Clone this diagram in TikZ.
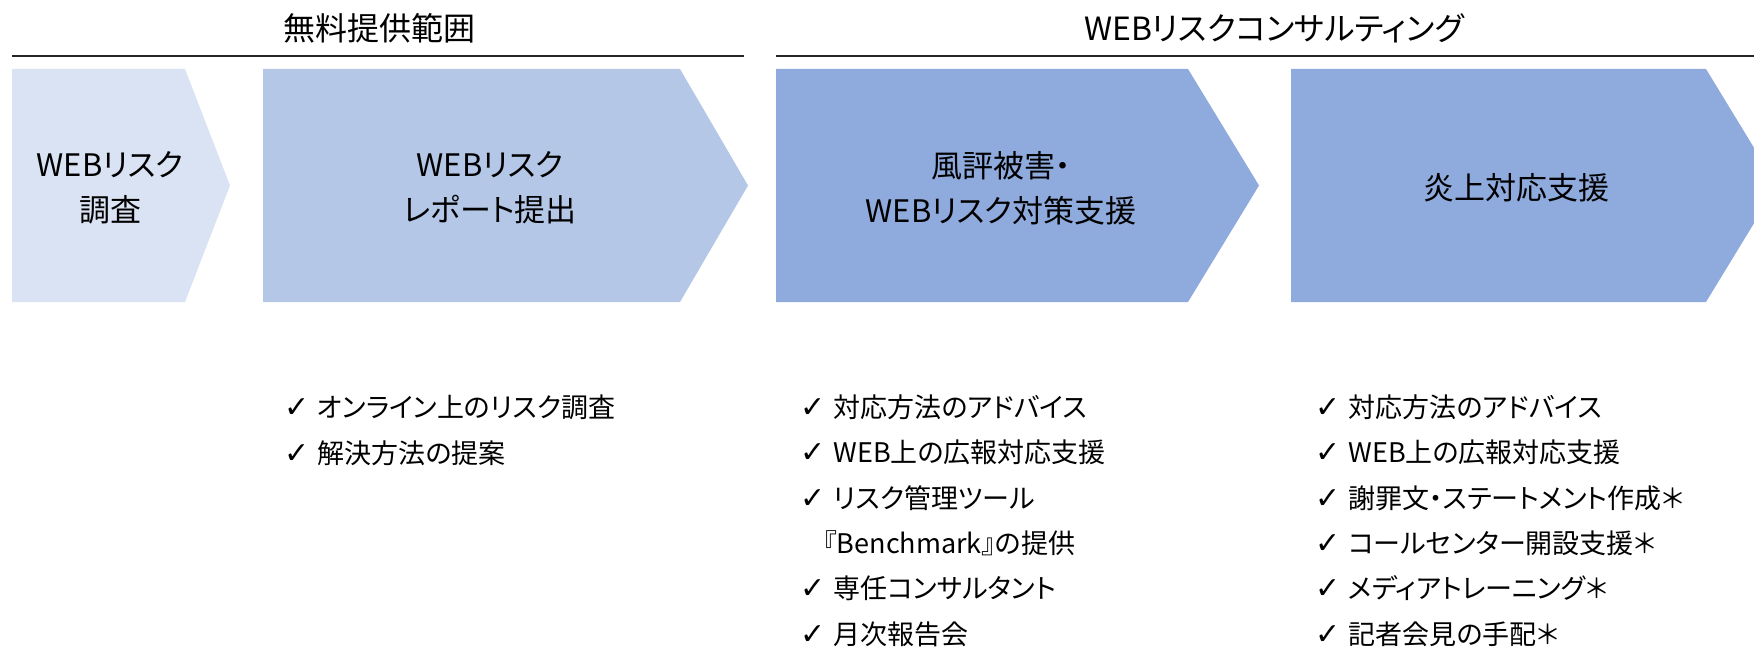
\documentclass[tikz,border=0pt]{standalone}
\usepackage{fontspec}
\setmainfont[RawFeature=+palt]{Noto Sans CJK JP}
\newfontfamily\chkfont{DejaVu Sans}
\newcommand{\chk}{\makebox[16.5pt][l]{\chkfont\fontsize{15}{15}\selectfont ✓}}
\definecolor{chevA}{HTML}{DAE3F3}
\definecolor{chevB}{HTML}{B4C7E7}
\definecolor{chevC}{HTML}{8FAADC}
\definecolor{rulegray}{HTML}{262626}

\begin{document}
\begin{tikzpicture}[x = 0.5pt, y = -0.5pt,
  head/.style = {font=\fontsize{16}{18}\selectfont},
  rule/.style = {rulegray, line width=1pt},
  chevtext/.style = {font=\fontsize{15.5}{22.5}\selectfont, align=center},
  item/.style = {anchor=west, inner sep=0pt, font=\fontsize{13.5}{15}\selectfont}]
\useasboundingbox (0,0) rectangle (1754,647);
\clip (0,0) rectangle (1754,647);

\node[head] (free) at (379,28) {無料提供範囲};
\node[head] (consult) at (1274,28) {WEBリスクコンサルティング};
\draw[rule] (12,56) -- (744,56);
\draw[rule] (776,56) -- (1754,56);

\fill[chevA] (12,69) -- (185,69) -- (230,185.5) -- (185,302) -- (12,302) -- cycle;
\fill[chevB] (263,69) -- (680,69) -- (748,185.5) -- (680,302) -- (263,302) -- cycle;
\fill[chevC] (776,69) -- (1188,69) -- (1259,185.5) -- (1188,302) -- (776,302) -- cycle;
\fill[chevC] (1291,69) -- (1706,69) -- (1777,185.5) -- (1706,302) -- (1291,302) -- cycle;

\node[chevtext] (survey) at (110,188) {WEBリスク\\調査};
\node[chevtext] (report) at (490,188) {WEBリスク\\レポート提出};
\node[chevtext] (measures) at (1001,188) {風評被害・\\WEBリスク対策支援};
\node[chevtext] (flame) at (1516,188) {炎上対応支援};

\node[item] (r1) at (284,407) {\chk オンライン上のリスク調査};
\node[item] (r2) at (284,453) {\chk 解決方法の提案};

\node[item] (m1) at (800,407) {\chk 対応方法のアドバイス};
\node[item] (m2) at (800,452) {\chk WEB上の広報対応支援};
\node[item] (m3) at (800,498) {\chk リスク管理ツール};
\node[item] (m3b) at (823,543) {『Benchmark』の提供};
\node[item] (m4) at (800,588) {\chk 専任コンサルタント};
\node[item] (m5) at (800,634) {\chk 月次報告会};

\node[item] (f1) at (1315,407) {\chk 対応方法のアドバイス};
\node[item] (f2) at (1315,452) {\chk WEB上の広報対応支援};
\node[item] (f3) at (1315,498) {\chk 謝罪文・ステートメント作成＊};
\node[item] (f4) at (1315,543) {\chk コールセンター開設支援＊};
\node[item] (f5) at (1315,588) {\chk メディアトレーニング＊};
\node[item] (f6) at (1315,634) {\chk 記者会見の手配＊};
\end{tikzpicture}
\end{document}
